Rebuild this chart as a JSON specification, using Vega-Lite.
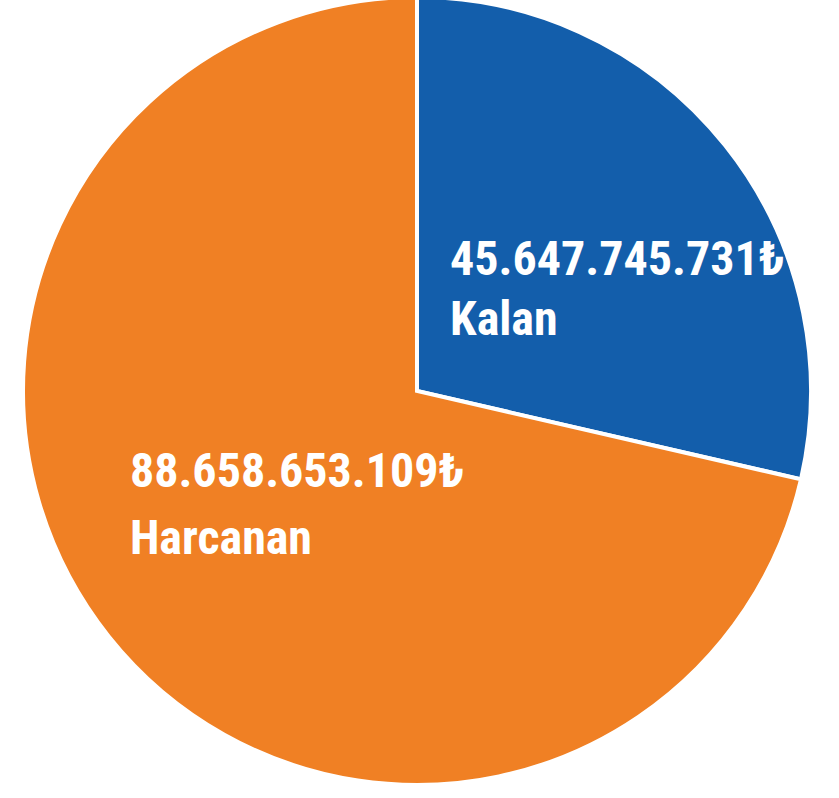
{
  "$schema": "https://vega.github.io/schema/vega-lite/v6.json",
  "width": 834,
  "height": 782,
  "autosize": {"type": "none"},
  "padding": {"left": 0, "top": 0, "right": 5, "bottom": 16},
  "background": "white",
  "config": {"view": {"stroke": null}},
  "data": {
    "values": [
      {"kategori": "Kalan", "tutar": 45647745731, "etiket": "45.647.745.731₺", "pay": 28.6},
      {"kategori": "Harcanan", "tutar": 88658653109, "etiket": "88.658.653.109₺", "pay": 71.4}
    ]
  },
  "encoding": {
    "theta": {"field": "pay", "type": "quantitative", "stack": true},
    "order": {"field": "kategori", "sort": "descending"}
  },
  "layer": [
    {
      "mark": {"type": "arc", "outerRadius": 394, "stroke": "white", "strokeWidth": 4},
      "encoding": {
        "color": {
          "field": "kategori",
          "type": "nominal",
          "scale": {"domain": ["Kalan", "Harcanan"], "range": ["#135EAB", "#F08024"]},
          "legend": null
        }
      }
    },
    {
      "mark": {
        "type": "text",
        "radius": 188,
        "align": "left",
        "baseline": "alphabetic",
        "font": "Roboto Condensed, DejaVu Sans Condensed, Roboto",
        "fontWeight": "bold",
        "fontSize": 48,
        "color": "white",
        "dx": {"expr": "datum.kategori === 'Kalan' ? -114 : -140"},
        "dy": {"expr": "datum.kategori === 'Kalan' ? 1 : -21"}
      },
      "encoding": {"text": {"field": "etiket"}}
    },
    {
      "mark": {
        "type": "text",
        "radius": 188,
        "align": "left",
        "baseline": "alphabetic",
        "font": "Roboto Condensed, DejaVu Sans Condensed, Roboto",
        "fontWeight": "bold",
        "fontSize": 48,
        "color": "white",
        "dx": {"expr": "datum.kategori === 'Kalan' ? -114 : -140"},
        "dy": {"expr": "datum.kategori === 'Kalan' ? 61 : 46"}
      },
      "encoding": {"text": {"field": "kategori"}}
    }
  ]
}
